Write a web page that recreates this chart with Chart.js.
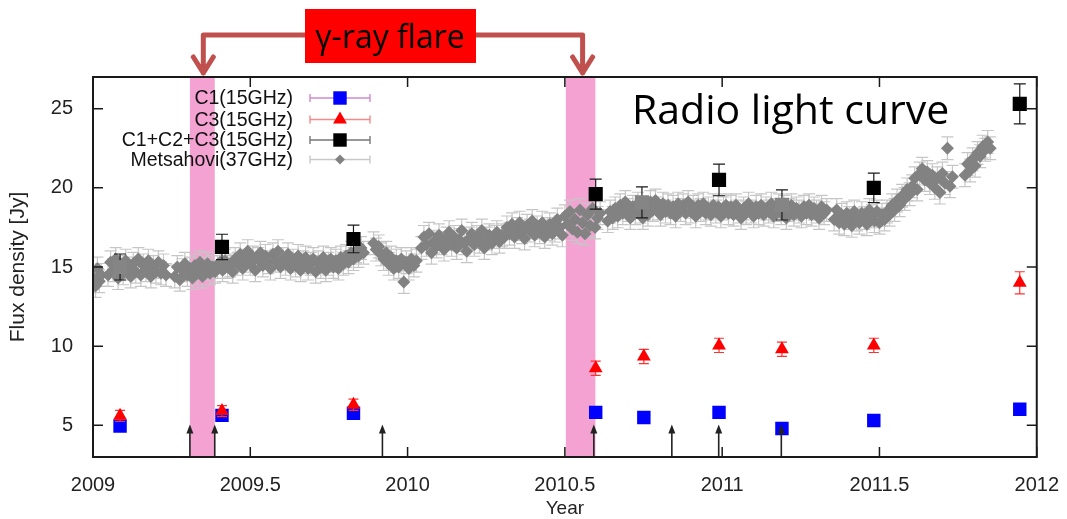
<!DOCTYPE html>
<html>
<head>
<meta charset="utf-8">
<script src="https://cdn.jsdelivr.net/npm/chart.js@4.4.1/dist/chart.umd.min.js"></script>
<style>
  html, body { margin: 0; padding: 0; background: #fff; }
  #wrap { position: relative; width: 1067px; height: 519px; }
</style>
</head>
<body>
<div id="wrap"><canvas id="flux" width="1067" height="519"></canvas></div>
<script>
const xTicks = [2009, 2009.5, 2010, 2010.5, 2011, 2011.5, 2012];
const yTicks = [5, 10, 15, 20, 25];

// gamma-ray flare periods and ejection epochs
const flareStart = [2009.308, 2010.503];
const flareEnd = [2009.387, 2010.597];
const arrowYears = [2009.308, 2009.387, 2009.920, 2010.592, 2010.840, 2010.989, 2011.188];

// VLBI 15 GHz components
const c1Years = [2009.086, 2009.410, 2009.828, 2010.598, 2010.751, 2010.990, 2011.190, 2011.482, 2011.946];
const c1Flux = [4.95, 5.63, 5.76, 5.82, 5.50, 5.82, 4.80, 5.30, 6.02];
const c1Err = [0.2, 0.2, 0.2, 0.2, 0.2, 0.2, 0.2, 0.2, 0.2];

const c3Years = [2009.086, 2009.410, 2009.828, 2010.598, 2010.751, 2010.990, 2011.190, 2011.482, 2011.946];
const c3Flux = [5.6, 5.9, 6.3, 8.6, 9.35, 10.05, 9.8, 10.05, 14.0];
const c3Err = [0.35, 0.35, 0.35, 0.45, 0.45, 0.45, 0.45, 0.45, 0.7];

const sumYears = [2009.086, 2009.410, 2009.828, 2010.598, 2010.745, 2010.990, 2011.190, 2011.482, 2011.946];
const sumFlux = [15.0, 16.27, 16.77, 19.6, 19.08, 20.5, 18.92, 20.0, 25.3];
const sumErr = [0.82, 0.8, 0.87, 0.95, 0.98, 1.0, 0.95, 0.93, 1.26];
// epochs blended with the single-dish points are shaded grey
const sumColors = ['#858585', '#000', '#000', '#000', '#858585', '#000', '#858585', '#000', '#000'];

// Metsahovi 37 GHz single-dish monitoring
const metsYears = [
  2009.002, 2009.008, 2009.014, 2009.020, 2009.026,
  2009.048, 2009.056, 2009.064, 2009.072, 2009.080, 2009.088, 2009.096, 2009.104, 2009.112, 2009.120,
  2009.128, 2009.136, 2009.144, 2009.152, 2009.160, 2009.168, 2009.176, 2009.184, 2009.192, 2009.200,
  2009.208, 2009.216, 2009.224, 2009.232,
  2009.260, 2009.268, 2009.276, 2009.284, 2009.292, 2009.300, 2009.308, 2009.316, 2009.324, 2009.332,
  2009.340, 2009.348, 2009.356, 2009.364, 2009.372, 2009.380, 2009.388,
  2009.396, 2009.404, 2009.412, 2009.420, 2009.428, 2009.436, 2009.444, 2009.452, 2009.460, 2009.468,
  2009.476, 2009.484, 2009.492, 2009.500, 2009.508, 2009.516, 2009.524, 2009.532, 2009.540, 2009.548,
  2009.556, 2009.564, 2009.572, 2009.580, 2009.588, 2009.596, 2009.604, 2009.612, 2009.620, 2009.628,
  2009.636, 2009.644, 2009.652, 2009.660, 2009.668, 2009.676, 2009.684, 2009.692, 2009.700, 2009.708,
  2009.716, 2009.724, 2009.732, 2009.740, 2009.748, 2009.756, 2009.764, 2009.772, 2009.780, 2009.788,
  2009.796, 2009.804, 2009.812, 2009.820, 2009.828, 2009.836, 2009.844, 2009.852, 2009.860,
  2009.892, 2009.900, 2009.908, 2009.916, 2009.924, 2009.932, 2009.940, 2009.948, 2009.956, 2009.964,
  2009.972, 2009.980, 2009.988, 2009.996, 2010.004, 2010.012, 2010.020, 2010.028,
  2010.044, 2010.052, 2010.060, 2010.068, 2010.076, 2010.084, 2010.092, 2010.100, 2010.108, 2010.116,
  2010.124, 2010.132, 2010.140, 2010.148, 2010.156, 2010.164, 2010.172, 2010.180, 2010.188, 2010.196,
  2010.204, 2010.212, 2010.220, 2010.228, 2010.236, 2010.244, 2010.252, 2010.260, 2010.268, 2010.276,
  2010.284, 2010.292, 2010.300,
  2010.308, 2010.316, 2010.324, 2010.332, 2010.340, 2010.348, 2010.356, 2010.364, 2010.372, 2010.380,
  2010.388, 2010.396, 2010.404, 2010.412, 2010.420, 2010.428, 2010.436, 2010.444, 2010.452, 2010.460,
  2010.468, 2010.476, 2010.484, 2010.492, 2010.500, 2010.508, 2010.516, 2010.524, 2010.532, 2010.540,
  2010.548, 2010.556, 2010.564, 2010.572, 2010.580, 2010.588, 2010.596, 2010.604, 2010.612,
  2010.636, 2010.644, 2010.652, 2010.660, 2010.668, 2010.676, 2010.684, 2010.692, 2010.700, 2010.708,
  2010.716, 2010.724, 2010.732, 2010.740, 2010.748, 2010.756, 2010.764, 2010.772, 2010.780, 2010.788,
  2010.796, 2010.804, 2010.812, 2010.820, 2010.828, 2010.836, 2010.844, 2010.852, 2010.860, 2010.868,
  2010.876, 2010.884, 2010.892, 2010.900, 2010.908, 2010.916, 2010.924, 2010.932, 2010.940, 2010.948,
  2010.956, 2010.964, 2010.972, 2010.980, 2010.988, 2010.996, 2011.004, 2011.012, 2011.020,
  2011.028, 2011.036, 2011.044, 2011.052, 2011.060, 2011.068, 2011.076, 2011.084, 2011.092, 2011.100,
  2011.108, 2011.116, 2011.124, 2011.132, 2011.140, 2011.148, 2011.156, 2011.164, 2011.172, 2011.180,
  2011.188, 2011.196, 2011.204, 2011.212, 2011.220, 2011.228, 2011.236, 2011.244, 2011.252, 2011.260,
  2011.268, 2011.276, 2011.284, 2011.292, 2011.300, 2011.308, 2011.316, 2011.324, 2011.332,
  2011.356, 2011.364, 2011.372, 2011.380, 2011.388, 2011.396, 2011.404, 2011.412, 2011.420, 2011.428,
  2011.436, 2011.444, 2011.452, 2011.460, 2011.468, 2011.476, 2011.484, 2011.492, 2011.500, 2011.508,
  2011.516, 2011.524,
  2011.532, 2011.540, 2011.548, 2011.556, 2011.564, 2011.572, 2011.580, 2011.588, 2011.596,
  2011.604, 2011.612, 2011.620, 2011.628, 2011.636, 2011.644, 2011.652, 2011.660, 2011.668,
  2011.676, 2011.684, 2011.692, 2011.700, 2011.708, 2011.716, 2011.724, 2011.732,
  2011.772, 2011.780, 2011.788, 2011.796, 2011.804, 2011.812, 2011.820, 2011.828, 2011.836, 2011.844,
  2011.852
];
const metsFlux = [
  14.3, 13.8, 14.9, 14.1, 14.5,
  14.5, 15.3, 14.8, 15.5, 14.3, 15.0, 14.6, 15.4, 14.9, 14.4,
  15.2, 14.7, 15.5, 14.5, 15.1, 14.8, 15.4, 14.4, 15.0, 14.7,
  15.3, 14.6, 15.1, 14.5,
  14.4, 15.0, 14.2, 14.8, 15.2, 14.5, 14.9, 14.3, 15.1, 14.6,
  15.3, 14.4, 14.9, 15.2, 14.6, 15.0, 14.7,
  15.0, 15.3, 14.8, 15.4, 15.0, 15.1, 14.7, 15.5, 15.2, 15.8,
  14.9, 15.4, 16.0, 15.2, 15.6, 14.8, 15.5, 15.9, 15.1, 15.7,
  15.3, 14.9, 15.8, 15.4, 16.0, 15.0, 15.5, 15.2, 15.8, 14.9,
  15.4, 15.1, 15.7, 14.8, 15.3, 15.6, 14.9, 15.2, 15.5, 14.7,
  15.3, 15.0, 15.6, 14.8, 15.2, 15.5, 15.0, 15.4, 14.9, 15.6,
  15.2, 15.7, 15.3, 15.9, 15.5, 16.0, 15.7, 16.2, 15.9,
  16.5, 16.1, 16.3, 15.8, 15.5, 15.9, 15.2, 15.6, 14.9, 15.4,
  15.0, 15.5, 14.05, 15.3, 14.9, 15.5, 15.1, 15.4,
  16.2, 16.9, 16.4, 17.1, 15.9, 16.6, 16.3, 17.0, 16.5, 16.1,
  16.8, 17.2, 16.4, 16.9, 16.2, 16.7, 17.3, 16.5, 16.0, 16.8,
  17.1, 16.4, 16.9, 16.6, 17.3, 16.2, 16.8, 17.0, 16.5, 16.9,
  17.2, 16.6, 17.0,
  16.9, 17.5, 17.1, 17.7, 16.9, 17.4, 17.8, 17.2, 16.8, 17.6,
  17.3, 17.9, 17.0, 17.5, 17.2, 17.8, 16.9, 17.4, 17.7, 17.1,
  17.3, 18.0, 17.5, 17.0, 18.2, 17.7, 18.5, 17.4, 18.0, 17.2,
  18.6, 17.8, 17.1, 18.3, 17.6, 18.7, 17.5, 18.1, 18.4,
  17.9, 18.5, 18.1, 18.7, 18.2, 18.9, 18.4, 19.1, 18.6, 18.1,
  18.8, 18.4, 19.0, 18.5, 18.1, 18.7, 18.3, 19.1, 18.6, 19.2,
  18.7, 18.3, 19.0, 18.5, 18.9, 18.4, 18.8, 18.2, 19.0, 18.6,
  18.9, 18.4, 19.1, 18.5, 18.8, 18.2, 18.9, 18.6, 19.0, 18.4,
  18.7, 18.3, 18.9, 18.5, 18.8, 18.2, 18.7, 18.9, 18.4,
  18.8, 18.3, 18.9, 18.5, 18.1, 18.7, 18.4, 19.0, 18.5, 18.2,
  18.8, 18.4, 18.9, 18.3, 18.7, 18.5, 19.0, 18.2, 18.6, 18.9,
  18.4, 18.8, 18.1, 18.6, 18.9, 18.3, 18.7, 18.5, 18.2, 18.8,
  18.4, 18.9, 18.3, 18.7, 18.5, 18.1, 18.8, 18.4, 18.6,
  18.0, 18.6, 17.8, 18.3, 17.7, 18.4, 18.1, 17.6, 18.5, 18.0,
  17.8, 18.4, 18.1, 17.7, 18.6, 18.2, 17.9, 18.5, 17.8, 18.3,
  18.0, 18.5,
  18.3, 18.9, 18.6, 19.2, 18.9, 19.5, 19.3, 19.9, 19.6,
  20.1, 20.6, 19.9, 20.9, 21.2, 20.5, 21.0, 20.3, 20.8,
  20.0, 20.6, 19.7, 20.9, 20.3, 22.5, 20.1, 20.7,
  20.8, 21.5, 21.1, 21.8, 21.4, 22.2, 22.0, 22.6, 22.4, 22.9,
  22.5
];
const metsErr = 0.72;

const FONT = '"Liberation Sans", Arial, sans-serif';
const INK = '#222';

const toPoints = (xs, ys) => xs.map((v, i) => ({ x: v, y: ys[i] }));

// vertical error bars, drawn just under each dataset's markers
const errorBarPlugin = {
  id: 'errorBars',
  beforeDatasetDraw(chart, args) {
    const ds = chart.data.datasets[args.index];
    if (!ds.errors) return;
    const { ctx, scales: { x, y } } = chart;
    ctx.save();
    ctx.beginPath();
    ctx.rect(chart.chartArea.left, chart.chartArea.top, chart.chartArea.width, chart.chartArea.height);
    ctx.clip();
    ctx.strokeStyle = ds.errorColor;
    ctx.lineWidth = 1.2;
    ds.data.forEach((p, i) => {
      const e = Array.isArray(ds.errors) ? ds.errors[i] : ds.errors;
      const px = x.getPixelForValue(p.x);
      const y1 = y.getPixelForValue(p.y - e);
      const y2 = y.getPixelForValue(p.y + e);
      const w = ds.capWidth;
      ctx.beginPath();
      ctx.moveTo(px, y1); ctx.lineTo(px, y2);
      ctx.moveTo(px - w, y1); ctx.lineTo(px + w, y1);
      ctx.moveTo(px - w, y2); ctx.lineTo(px + w, y2);
      ctx.stroke();
    });
    ctx.restore();
  }
};

const drawMarker = (ctx, style, x, y, r, color) => {
  ctx.fillStyle = color;
  ctx.beginPath();
  if (style === 'rect') {
    const s = r * Math.SQRT1_2;
    ctx.rect(x - s, y - s, 2 * s, 2 * s);
  } else if (style === 'triangle') {
    ctx.moveTo(x, y - r);
    ctx.lineTo(x + r * 0.866, y + r / 2);
    ctx.lineTo(x - r * 0.866, y + r / 2);
  } else {
    ctx.moveTo(x, y - r); ctx.lineTo(x + r, y); ctx.lineTo(x, y + r); ctx.lineTo(x - r, y);
  }
  ctx.closePath();
  ctx.fill();
};

const decorPlugin = {
  id: 'decor',
  beforeDatasetsDraw(chart) {
    const { ctx, chartArea: a, scales: { x } } = chart;
    ctx.save();
    ctx.fillStyle = '#f3a2d2';
    flareStart.forEach((s, i) => {
      const x1 = x.getPixelForValue(s);
      const x2 = x.getPixelForValue(flareEnd[i]);
      ctx.fillRect(x1, a.top, x2 - x1, a.bottom - a.top);
    });
    ctx.restore();
  },
  afterDraw(chart) {
    const { ctx, chartArea: a, scales: { x, y } } = chart;
    ctx.save();

    // ejection arrows along the bottom axis
    ctx.strokeStyle = INK;
    ctx.fillStyle = INK;
    ctx.lineWidth = 1.6;
    const tip = y.getPixelForValue(5.05);
    arrowYears.forEach(t => {
      const px = x.getPixelForValue(t);
      ctx.beginPath();
      ctx.moveTo(px, a.bottom); ctx.lineTo(px, tip + 6);
      ctx.stroke();
      ctx.beginPath();
      ctx.moveTo(px, tip); ctx.lineTo(px + 3.5, tip + 9); ctx.lineTo(px - 3.5, tip + 9);
      ctx.closePath();
      ctx.fill();
    });

    // frame with inward ticks on all four sides
    ctx.strokeStyle = '#1a1a1a';
    ctx.lineWidth = 2;
    ctx.strokeRect(a.left, a.top, a.right - a.left, a.bottom - a.top);
    ctx.lineWidth = 1.5;
    ctx.beginPath();
    xTicks.forEach(t => {
      const px = x.getPixelForValue(t);
      ctx.moveTo(px, a.bottom); ctx.lineTo(px, a.bottom - 10);
      ctx.moveTo(px, a.top); ctx.lineTo(px, a.top + 10);
    });
    yTicks.forEach(t => {
      const py = y.getPixelForValue(t);
      ctx.moveTo(a.left, py); ctx.lineTo(a.left + 10, py);
      ctx.moveTo(a.right, py); ctx.lineTo(a.right - 10, py);
    });
    ctx.stroke();

    // legend: label right-aligned, error-bar sample with marker
    const entries = chart.data.datasets.slice().sort((p, q) => p.legendRow - q.legendRow);
    const rowY = [98, 119.5, 140, 159.5];
    ctx.font = '19.5px ' + FONT;
    ctx.textAlign = 'right';
    ctx.textBaseline = 'middle';
    entries.forEach((ds, i) => {
      const ly = rowY[i];
      ctx.fillStyle = '#111';
      ctx.fillText(ds.label, 293, ly + 1);
      ctx.strokeStyle = ds.legendLine;
      ctx.lineWidth = 1.4;
      ctx.beginPath();
      ctx.moveTo(310, ly); ctx.lineTo(370, ly);
      ctx.moveTo(310, ly - 4); ctx.lineTo(310, ly + 4);
      ctx.moveTo(370, ly - 4); ctx.lineTo(370, ly + 4);
      ctx.stroke();
      drawMarker(ctx, ds.pointStyle, 340, ly, ds.legendRadius, ds.legendColor);
    });

    // annotation: title and flare callout
    ctx.fillStyle = '#000';
    ctx.textAlign = 'left';
    ctx.textBaseline = 'alphabetic';
    ctx.font = '41px "Open Sans", sans-serif';
    ctx.fillText('Radio light curve', 632, 124);

    ctx.strokeStyle = '#c0504d';
    ctx.lineWidth = 5;
    ctx.lineJoin = 'round';
    ctx.lineCap = 'round';
    const b1 = x.getPixelForValue((flareStart[0] + flareEnd[0]) / 2) + 1;
    const b2 = x.getPixelForValue((flareStart[1] + flareEnd[1]) / 2) + 2;
    ctx.beginPath();
    ctx.moveTo(305, 35); ctx.lineTo(b1, 35); ctx.lineTo(b1, 73);
    ctx.moveTo(b1 - 10, 57); ctx.lineTo(b1, 73); ctx.lineTo(b1 + 10, 57);
    ctx.moveTo(476, 35); ctx.lineTo(b2, 35); ctx.lineTo(b2, 73);
    ctx.moveTo(b2 - 10, 57); ctx.lineTo(b2, 73); ctx.lineTo(b2 + 10, 57);
    ctx.stroke();

    ctx.fillStyle = '#ff0000';
    ctx.fillRect(305, 9, 171, 54);
    ctx.fillStyle = '#000';
    ctx.textAlign = 'center';
    ctx.font = '32px "Open Sans", sans-serif';
    ctx.fillText('\u03b3-ray flare', 390, 48);

    ctx.restore();
  }
};

new Chart(document.getElementById('flux'), {
  type: 'scatter',
  data: {
    datasets: [
      {
        label: 'C1(15GHz)', data: toPoints(c1Years, c1Flux), errors: c1Err,
        pointStyle: 'rect', pointRadius: 9.5, backgroundColor: '#0000ff', borderWidth: 0,
        errorColor: '#c060c0', capWidth: 5, legendLine: '#d08ad0', legendColor: '#0000ff',
        legendRadius: 9.5, legendRow: 0, order: 1
      },
      {
        label: 'C3(15GHz)', data: toPoints(c3Years, c3Flux), errors: c3Err,
        pointStyle: 'triangle', pointRadius: 8, backgroundColor: '#ff0000', borderWidth: 0,
        errorColor: '#ff3030', capWidth: 5, legendLine: '#f58a8a', legendColor: '#ff0000',
        legendRadius: 8, legendRow: 1, order: 0
      },
      {
        label: 'C1+C2+C3(15GHz)', data: toPoints(sumYears, sumFlux), errors: sumErr,
        pointStyle: 'rect', pointRadius: 10, backgroundColor: sumColors, borderWidth: 0,
        errorColor: '#1a1a1a', capWidth: 6, legendLine: '#777777', legendColor: '#000000',
        legendRadius: 9.5, legendRow: 2, order: 2
      },
      {
        label: 'Metsahovi(37GHz)', data: toPoints(metsYears, metsFlux), errors: metsErr,
        pointStyle: 'rectRot', pointRadius: 6.5, backgroundColor: '#828282', borderWidth: 0,
        errorColor: '#c6c6c6', capWidth: 6, legendLine: '#c8c8c8', legendColor: '#828282',
        legendRadius: 5, legendRow: 3, order: 3
      }
    ]
  },
  options: {
    responsive: false,
    animation: false,
    events: [],
    devicePixelRatio: 1,
    layout: { padding: { left: 0, right: 28, top: 77, bottom: 0 } },
    plugins: { legend: { display: false }, tooltip: { enabled: false } },
    scales: {
      x: {
        type: 'linear', min: 2009, max: 2012,
        afterBuildTicks: s => { s.ticks = xTicks.map(v => ({ value: v })); },
        afterFit: s => { s.height = 62; },
        border: { display: false },
        grid: { display: false },
        ticks: { color: INK, font: { family: FONT, size: 20 }, padding: 8, maxRotation: 0, autoSkip: false, callback: v => String(v) },
        title: { display: true, text: 'Year', color: INK, font: { family: FONT, size: 19 }, padding: { top: 0, bottom: -1 } }
      },
      y: {
        type: 'linear', min: 3, max: 27,
        afterBuildTicks: s => { s.ticks = yTicks.map(v => ({ value: v })); },
        afterFit: s => { s.width = 93; },
        border: { display: false },
        grid: { display: false },
        ticks: { color: INK, font: { family: FONT, size: 20 }, padding: 12, callback: v => String(v) },
        title: { display: true, text: 'Flux density [Jy]', color: INK, font: { family: FONT, size: 21 }, padding: { top: 6, bottom: 0 } }
      }
    }
  },
  plugins: [errorBarPlugin, decorPlugin]
});
</script>
</body>
</html>
